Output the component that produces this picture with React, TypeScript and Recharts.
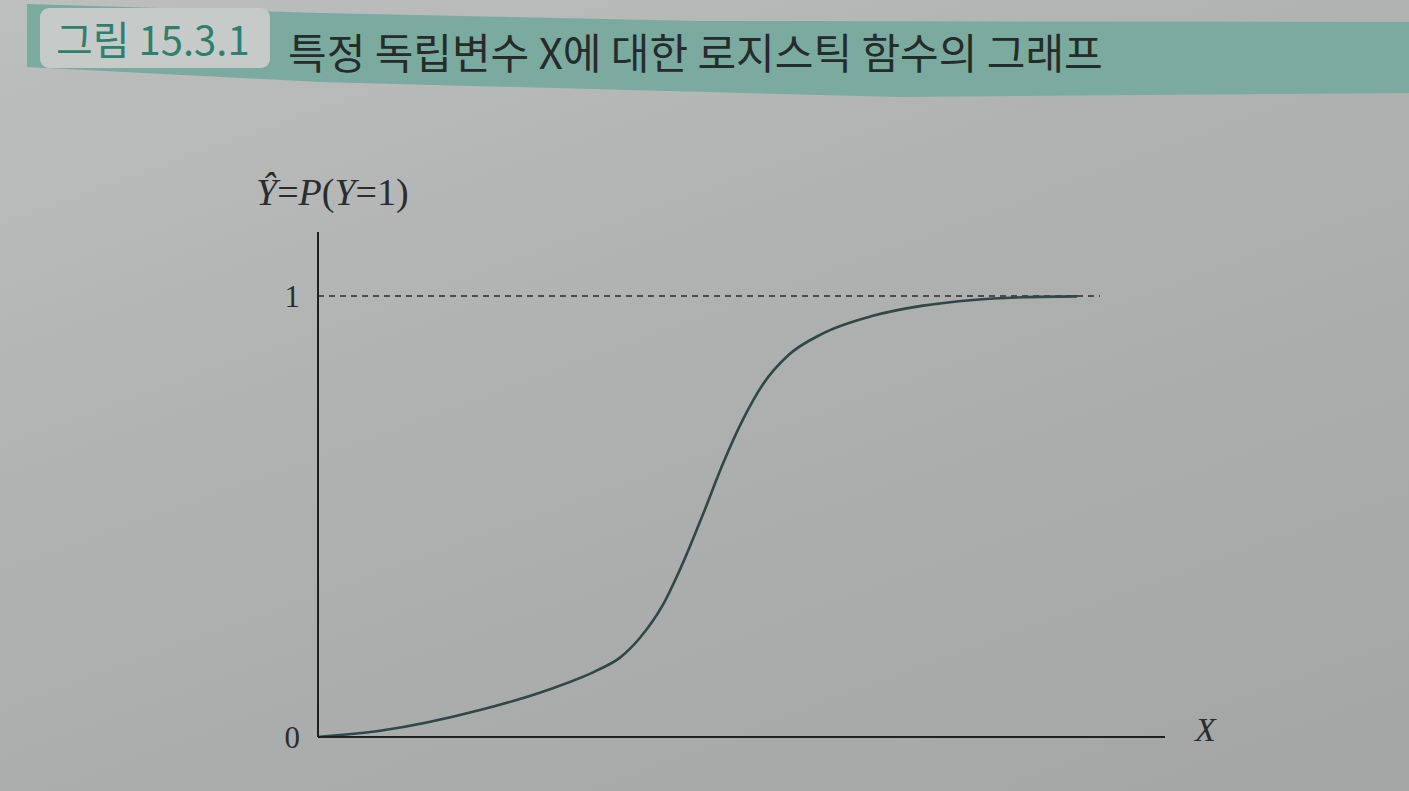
import { LineChart, Line, XAxis, YAxis, ReferenceLine } from 'recharts'

// x positions along the horizontal axis (0..847) and the logistic curve value at each
const xValues = [0, 62, 162, 229, 279, 302, 322, 345, 365, 385, 405, 425, 445, 470, 505, 555, 605, 655, 705, 759]
const yValues = [0, 0.014, 0.061, 0.106, 0.151, 0.18, 0.225, 0.3, 0.395, 0.505, 0.62, 0.72, 0.8, 0.865, 0.915, 0.955, 0.978, 0.991, 0.997, 0.999]
const yTicks = [0, 1]
const dashedEnd = 782

const curve = xValues.map((x, i) => ({ x, p: yValues[i] }))

const serif = '"Liberation Serif", "DejaVu Serif", serif'
const kr = '"Noto Sans CJK KR", "Noto Sans", sans-serif'

export default function App() {
  return (
    <div
      style={{
        position: 'fixed',
        left: 0,
        top: 0,
        width: 1409,
        height: 791,
        overflow: 'hidden',
        background: 'linear-gradient(160deg, #bdbebe 0%, #afb0b0 45%, #a4a5a5 100%)',
      }}
    >
      {/* header band */}
      <svg width={1409} height={110} style={{ position: 'absolute', left: 0, top: 0 }}>
        <polygon points="27,4 320,13 700,21 1409,22 1409,93 900,97 320,82 27,67" fill="#7baa9f" />
        <rect x={40} y={8} width={230} height={60} rx={9} fill="#c6cbc9" />
      </svg>
      <div
        style={{
          position: 'absolute',
          left: 56,
          top: 9,
          fontFamily: kr,
          fontSize: 40,
          color: '#2f7f6f',
          whiteSpace: 'nowrap',
        }}
      >
        그림 15.3.1
      </div>
      <div
        style={{
          position: 'absolute',
          left: 288,
          top: 20,
          fontFamily: kr,
          fontSize: 42,
          color: '#262b2b',
          whiteSpace: 'nowrap',
        }}
      >
        특정 독립변수 X에 대한 로지스틱 함수의 그래프
      </div>

      {/* axis titles */}
      <div
        style={{
          position: 'absolute',
          left: 256,
          top: 170,
          fontFamily: serif,
          fontSize: 38,
          color: '#2a2d2d',
          whiteSpace: 'nowrap',
        }}
      >
        <i>Ŷ</i>=<i>P</i>(<i>Y</i>=1)
      </div>
      <div
        style={{
          position: 'absolute',
          left: 1195,
          top: 711,
          fontFamily: serif,
          fontSize: 34,
          color: '#2a2d2d',
          fontStyle: 'italic',
        }}
      >
        X
      </div>

      <div style={{ position: 'absolute', left: 0, top: 0 }}>
        <LineChart width={1409} height={791} data={curve} margin={{ top: 232, right: 244, bottom: 34, left: 258 }}>
          <XAxis
            type="number"
            dataKey="x"
            domain={[0, 847]}
            height={20}
            tick={false}
            tickLine={false}
            axisLine={{ stroke: '#1d2121', strokeWidth: 2 }}
          />
          <YAxis
            type="number"
            domain={[0, 1.145]}
            ticks={yTicks}
            width={60}
            tickLine={false}
            tickSize={0}
            tickMargin={18}
            axisLine={{ stroke: '#1d2121', strokeWidth: 2 }}
            tick={{ fontSize: 31, fill: '#2a2d2d', fontFamily: serif }}
          />
          <ReferenceLine
            segment={[
              { x: 0, y: 1 },
              { x: dashedEnd, y: 1 },
            ]}
            stroke="#2a2d2d"
            strokeWidth={1.6}
            strokeDasharray="6 5"
          />
          <Line
            type="monotone"
            dataKey="p"
            stroke="#2d4846"
            strokeWidth={2.6}
            dot={false}
            isAnimationActive={false}
          />
        </LineChart>
      </div>
    </div>
  )
}
